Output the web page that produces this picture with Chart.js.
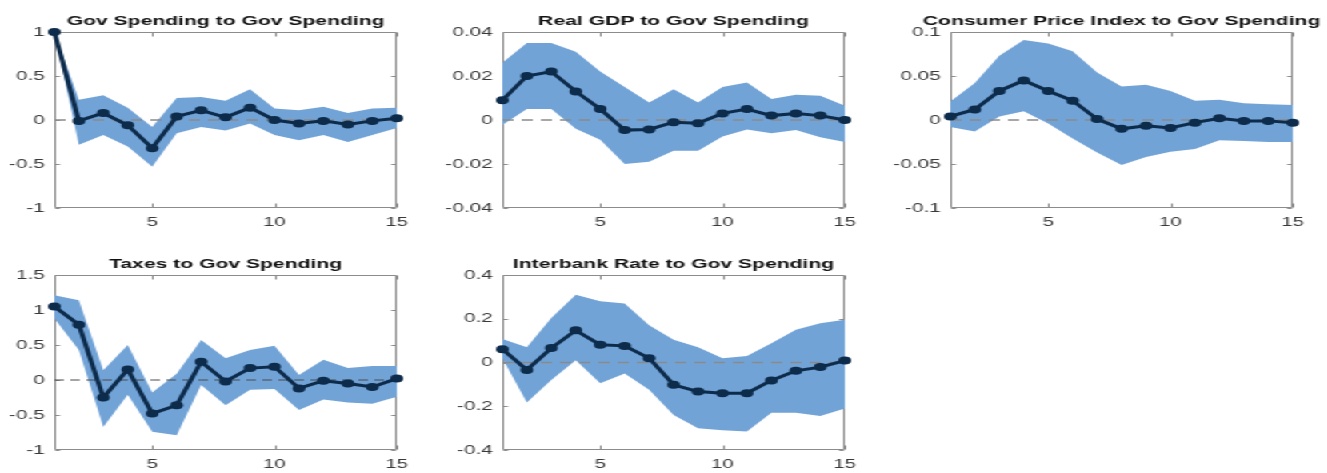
<!DOCTYPE html>
<html>
<head>
<meta charset="utf-8">
<title>Impulse responses to a government spending shock</title>
<script src="https://cdn.jsdelivr.net/npm/chart.js@4.4.1/dist/chart.umd.min.js"></script>
<style>
  html, body { margin: 0; padding: 0; background: #fff; overflow: hidden; width: 1327px; height: 473px; }
  /* the figure is laid out narrow and widened horizontally as a whole */
  #figure { position: absolute; left: 0; top: 0; width: 830px; height: 473px; transform: scaleX(1.6); transform-origin: 0 0; }
  #figure canvas { position: absolute; }
</style>
</head>
<body>
<div id="figure"></div>
<script>
// ---- data -------------------------------------------------------------
const horizons = [1, 2, 3, 4, 5, 6, 7, 8, 9, 10, 11, 12, 13, 14, 15];
const xTickValues = [5, 10, 15];

// Gov Spending to Gov Spending
const govResp  = [1.00, -0.01, 0.08, -0.06, -0.32, 0.04, 0.11, 0.03, 0.14, 0.00, -0.04, -0.01, -0.05, -0.01, 0.02];
const govUpper = [1.00, 0.23, 0.28, 0.14, -0.08, 0.25, 0.26, 0.22, 0.35, 0.13, 0.11, 0.15, 0.08, 0.13, 0.14];
const govLower = [1.00, -0.28, -0.17, -0.30, -0.53, -0.15, -0.08, -0.12, -0.04, -0.17, -0.23, -0.17, -0.25, -0.17, -0.09];
const govTicks = [-1, -0.5, 0, 0.5, 1];

// Real GDP to Gov Spending
const gdpResp  = [0.009, 0.020, 0.022, 0.013, 0.005, -0.0046, -0.0043, -0.001, -0.0015, 0.003, 0.005, 0.002, 0.003, 0.002, 0.000];
const gdpUpper = [0.026, 0.035, 0.035, 0.031, 0.022, 0.015, 0.008, 0.014, 0.008, 0.015, 0.017, 0.0095, 0.0115, 0.011, 0.0065];
const gdpLower = [-0.0023, 0.005, 0.005, -0.004, -0.009, -0.020, -0.019, -0.014, -0.014, -0.0075, -0.0043, -0.006, -0.0046, -0.0078, -0.010];
const gdpTicks = [-0.04, -0.02, 0, 0.02, 0.04];

// Consumer Price Index to Gov Spending
const cpiResp  = [0.004, 0.012, 0.033, 0.045, 0.033, 0.022, 0.001, -0.010, -0.0065, -0.009, -0.003, 0.002, -0.001, -0.001, -0.003];
const cpiUpper = [0.021, 0.042, 0.073, 0.091, 0.087, 0.078, 0.054, 0.038, 0.040, 0.033, 0.022, 0.023, 0.019, 0.018, 0.017];
const cpiLower = [-0.008, -0.013, 0.004, 0.010, -0.004, -0.021, -0.037, -0.051, -0.042, -0.036, -0.033, -0.023, -0.024, -0.025, -0.025];
const cpiTicks = [-0.1, -0.05, 0, 0.05, 0.1];

// Taxes to Gov Spending
const taxResp  = [1.05, 0.79, -0.25, 0.15, -0.48, -0.36, 0.26, -0.02, 0.17, 0.19, -0.12, -0.01, -0.05, -0.10, 0.02];
const taxUpper = [1.21, 1.14, 0.14, 0.50, -0.18, 0.09, 0.57, 0.31, 0.43, 0.49, 0.07, 0.29, 0.17, 0.20, 0.20];
const taxLower = [0.88, 0.43, -0.67, -0.21, -0.74, -0.79, -0.07, -0.36, -0.14, -0.13, -0.43, -0.28, -0.32, -0.34, -0.24];
const taxTicks = [-1, -0.5, 0, 0.5, 1, 1.5];

// Interbank Rate to Gov Spending
const rateResp  = [0.061, -0.034, 0.066, 0.147, 0.081, 0.076, 0.020, -0.102, -0.133, -0.140, -0.140, -0.082, -0.038, -0.021, 0.009];
const rateUpper = [0.107, 0.070, 0.203, 0.310, 0.280, 0.270, 0.170, 0.104, 0.070, 0.020, 0.030, 0.088, 0.150, 0.180, 0.195];
const rateLower = [0.020, -0.183, -0.080, 0.010, -0.095, -0.050, -0.125, -0.240, -0.300, -0.310, -0.315, -0.230, -0.230, -0.245, -0.210];
const rateTicks = [-0.4, -0.2, 0, 0.2, 0.4];

// ---- styling ------------------------------------------------------------
const STRETCH = 1.6;
const FONT = '"Liberation Sans", Arial, Helvetica, sans-serif';
const NAVY = '#0d2b4a';
const BAND = '#72a3d7';
const BOX = '#8c8c8c';
const TICK_COLOR = '#3a3a3a';
const MARGIN = 40, PLOT_W = 214, TOP_H = 32, BOTTOM_H = 26;
const TITLE_SIZE = 13.2;

const panels = [
  { title: 'Gov Spending to Gov Spending', resp: govResp, upper: govUpper, lower: govLower, ticks: govTicks, left: 55, top: 32, height: 176, zero: '#8a8a8a', dash: [7, 5], zeroW: 1.4 },
  { title: 'Real GDP to Gov Spending', resp: gdpResp, upper: gdpUpper, lower: gdpLower, ticks: gdpTicks, left: 502, top: 32, height: 176, zero: '#8a8a8a', dash: [7, 5], zeroW: 1.4 },
  { title: 'Consumer Price Index to Gov Spending', resp: cpiResp, upper: cpiUpper, lower: cpiLower, ticks: cpiTicks, left: 950, top: 32, height: 176, zero: '#8a8a8a', dash: [7, 5], zeroW: 1.4 },
  { title: 'Taxes to Gov Spending', resp: taxResp, upper: taxUpper, lower: taxLower, ticks: taxTicks, left: 55, top: 275, height: 175, zero: '#4a4a4a', dash: [6, 4], zeroW: 1 },
  { title: 'Interbank Rate to Gov Spending', resp: rateResp, upper: rateUpper, lower: rateLower, ticks: rateTicks, left: 502, top: 275, height: 175, zero: '#8a8a8a', dash: [7, 5], zeroW: 1.4 }
];

const toPoints = values => horizons.map((h, i) => ({ x: h, y: values[i] }));

// axes box with inward tick marks, drawn underneath the data
const axesBox = {
  id: 'axesBox',
  beforeDatasetsDraw(chart) {
    const ctx = chart.ctx;
    const a = chart.chartArea;
    const x = chart.scales.x, y = chart.scales.y;
    const L = Math.round(a.left) + 0.5, R = Math.round(a.right) - 0.5;
    const T = Math.round(a.top) + 0.5, B = Math.round(a.bottom) - 0.5;
    ctx.save();
    ctx.setLineDash([]);
    ctx.strokeStyle = BOX;
    ctx.lineWidth = 1;
    ctx.beginPath();
    ctx.moveTo(L, T); ctx.lineTo(R, T); ctx.lineTo(R, B); ctx.lineTo(L, B); ctx.closePath();
    x.ticks.forEach(t => {
      const px = Math.round(x.getPixelForValue(t.value)) + 0.5;
      ctx.moveTo(px, B); ctx.lineTo(px, B - 4);
      ctx.moveTo(px, T); ctx.lineTo(px, T + 4);
    });
    y.ticks.forEach(t => {
      const py = Math.round(y.getPixelForValue(t.value)) + 0.5;
      ctx.moveTo(L, py); ctx.lineTo(L + 3, py);
      ctx.moveTo(R, py); ctx.lineTo(R - 3, py);
    });
    ctx.stroke();
    ctx.restore();
  }
};

const figure = document.getElementById('figure');

panels.forEach(p => {
  const canvas = document.createElement('canvas');
  const w = PLOT_W + 2 * MARGIN;
  const h = TOP_H + p.height + BOTTOM_H;
  canvas.width = w;
  canvas.height = h;
  canvas.style.width = w + 'px';
  canvas.style.height = h + 'px';
  canvas.style.left = (p.left / STRETCH - MARGIN) + 'px';
  canvas.style.top = (p.top - TOP_H) + 'px';
  figure.appendChild(canvas);

  new Chart(canvas, {
    type: 'line',
    data: {
      datasets: [
        {
          label: 'response',
          data: toPoints(p.resp),
          borderColor: NAVY,
          backgroundColor: NAVY,
          borderWidth: 3,
          pointRadius: 4,
          pointBackgroundColor: NAVY,
          pointBorderWidth: 0,
          tension: 0,
          fill: false,
          clip: false,
          order: 0
        },
        {
          label: 'zero',
          data: toPoints(horizons.map(() => 0)),
          borderColor: p.zero,
          borderWidth: p.zeroW,
          borderDash: p.dash,
          pointRadius: 0,
          fill: false,
          order: 1
        },
        {
          label: 'upper',
          data: toPoints(p.upper),
          borderColor: 'rgba(0,0,0,0)',
          borderWidth: 0,
          backgroundColor: BAND,
          pointRadius: 0,
          tension: 0,
          fill: '+1',
          order: 2
        },
        {
          label: 'lower',
          data: toPoints(p.lower),
          borderColor: 'rgba(0,0,0,0)',
          borderWidth: 0,
          pointRadius: 0,
          tension: 0,
          fill: false,
          order: 3
        }
      ]
    },
    options: {
      responsive: false,
      animation: false,
      devicePixelRatio: 1,
      events: [],
      layout: { padding: 0 },
      plugins: {
        legend: { display: false },
        tooltip: { enabled: false },
        title: {
          display: true,
          text: p.title,
          color: '#111',
          font: { family: FONT, size: TITLE_SIZE, weight: 'bold', lineHeight: 1.2 },
          padding: { top: 13, bottom: TOP_H - 13 - TITLE_SIZE * 1.2 }
        }
      },
      scales: {
        x: {
          type: 'linear',
          min: horizons[0],
          max: horizons[horizons.length - 1],
          grid: { display: false, drawTicks: false },
          border: { display: false },
          afterBuildTicks: s => { s.ticks = xTickValues.map(v => ({ value: v })); },
          afterFit: s => { s.height = BOTTOM_H; },
          ticks: {
            font: { family: FONT, size: 12.5 },
            color: TICK_COLOR,
            padding: 7,
            maxRotation: 0,
            autoSkip: false,
            callback: v => String(v)
          }
        },
        y: {
          type: 'linear',
          position: 'left',
          min: p.ticks[0],
          max: p.ticks[p.ticks.length - 1],
          grid: { display: false, drawTicks: false },
          border: { display: false },
          afterBuildTicks: s => { s.ticks = p.ticks.map(v => ({ value: v })); },
          afterFit: s => { s.width = MARGIN; },
          ticks: {
            font: { family: FONT, size: 13 },
            color: TICK_COLOR,
            padding: 6,
            autoSkip: false,
            callback: v => String(v)
          }
        },
        // empty right-hand axis: keeps the plot centred under its title
        yRight: {
          type: 'linear',
          position: 'right',
          display: true,
          grid: { display: false, drawTicks: false },
          border: { display: false },
          ticks: { display: false },
          afterFit: s => { s.width = MARGIN; }
        }
      }
    },
    plugins: [axesBox]
  });
});
</script>
</body>
</html>
